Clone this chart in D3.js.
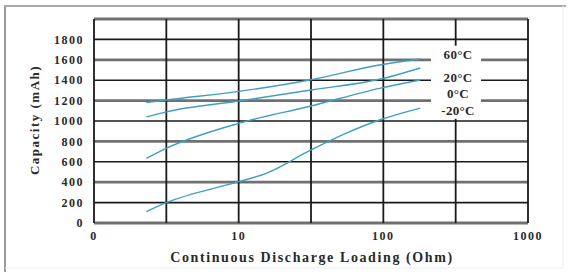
<!DOCTYPE html>
<html>
<head>
<meta charset="utf-8">
<script src="https://cdn.jsdelivr.net/npm/d3@7"></script>
<style>
  body { margin: 0; background: #fff; }
  text { font-family: "Liberation Serif", "Times New Roman", serif; font-weight: bold; fill: #2a2a2a; }
</style>
</head>
<body>
<svg id="chart" width="571" height="277"></svg>
<script>
// data
var xTicks = [1, 10, 100, 1000];
var xTickLabels = ["0", "10", "100", "1000"];
var yTicks = [0, 200, 400, 600, 800, 1000, 1200, 1400, 1600, 1800];
var seriesNames = ["60\u00B0C", "20\u00B0C", "0\u00B0C", "-20\u00B0C"];
var load60 = [2.3, 3.16, 10, 31.6, 94, 180];
var cap60 = [1180, 1206, 1290, 1405, 1549, 1608];
var load20 = [2.3, 3.16, 10, 31.6, 94, 180];
var cap20 = [1040, 1090, 1196, 1304, 1409, 1520];
var load0 = [2.3, 3.16, 10, 31.6, 94, 180];
var cap0 = [634, 732, 977, 1147, 1320, 1402];
var loadM20 = [2.3, 3.16, 10, 15.5, 31.6, 55, 94, 180];
var capM20 = [111, 199, 405, 487, 716, 879, 1010, 1127];
var labelY = [1650, 1430, 1270, 1100];

var series = [
  {name: seriesNames[0], x: load60, y: cap60},
  {name: seriesNames[1], x: load20, y: cap20},
  {name: seriesNames[2], x: load0, y: cap0},
  {name: seriesNames[3], x: loadM20, y: capM20}
];

var svg = d3.select("#chart");

// outer frame
svg.append("line").attr("x1", 5).attr("x2", 5).attr("y1", 5).attr("y2", 272)
  .attr("stroke", "#999").attr("stroke-width", 2);
svg.append("line").attr("x1", 4).attr("x2", 566).attr("y1", 6).attr("y2", 6)
  .attr("stroke", "#aaa").attr("stroke-width", 2);
svg.append("line").attr("x1", 563).attr("x2", 563).attr("y1", 6).attr("y2", 268)
  .attr("stroke", "#eee").attr("stroke-width", 1);
svg.append("line").attr("x1", 5).attr("x2", 563).attr("y1", 268).attr("y2", 268)
  .attr("stroke", "#eee").attr("stroke-width", 1);

var x = d3.scaleLog().domain([1, 1000]).range([94, 528]);
var y = d3.scaleLinear().domain([0, 2000]).range([223, 19]);

// horizontal grid: every other line is a heavier grey one
function heavy(d) { return d % 400 === 0; }
svg.append("g").selectAll("line")
  .data(d3.range(0, 2001, 200))
  .enter().append("line")
    .attr("x1", x(1)).attr("x2", x(1000))
    .attr("y1", function(d) { return y(d); })
    .attr("y2", function(d) { return y(d); })
    .attr("stroke", function(d) { return heavy(d) ? "#707070" : "#1a1a1a"; })
    .attr("stroke-width", function(d) { return heavy(d) ? 2.8 : 1.6; });

// vertical grid at every half decade
var vLines = [1, Math.sqrt(10), 10, Math.sqrt(1000), 100, Math.sqrt(100000), 1000];
svg.append("g").selectAll("line")
  .data(vLines)
  .enter().append("line")
    .attr("x1", function(d) { return x(d); })
    .attr("x2", function(d) { return x(d); })
    .attr("y1", y(2000)).attr("y2", y(0))
    .attr("stroke", "#1a1a1a")
    .attr("stroke-width", 1.8);

// curves
var line = d3.line()
  .x(function(d) { return x(d[0]); })
  .y(function(d) { return y(d[1]); })
  .curve(d3.curveMonotoneX);

svg.append("g").selectAll("path")
  .data(series)
  .enter().append("path")
    .attr("d", function(s) { return line(d3.zip(s.x, s.y)); })
    .attr("fill", "none")
    .attr("stroke", "#3f9fc2")
    .attr("stroke-width", 1.4);

// white patch behind the series labels
svg.append("rect")
  .attr("x", 431).attr("y", y(labelY[0]) - 9)
  .attr("width", 50)
  .attr("height", y(labelY[3]) - y(labelY[0]) + 17)
  .attr("fill", "#fff");

svg.append("g").selectAll("text")
  .data(series)
  .enter().append("text")
    .attr("x", 458)
    .attr("y", function(s, i) { return y(labelY[i]); })
    .attr("text-anchor", "middle")
    .attr("dy", "0.35em")
    .style("font-size", "13px")
    .style("letter-spacing", "0.3px")
    .text(function(s) { return s.name; });

// y tick labels
svg.append("g").selectAll("text")
  .data(yTicks)
  .enter().append("text")
    .attr("x", 84)
    .attr("y", function(d) { return y(d); })
    .attr("dy", "0.35em")
    .attr("text-anchor", "end")
    .style("font-size", "12px")
    .style("letter-spacing", "1.5px")
    .text(function(d) { return d; });

// x tick labels
svg.append("g").selectAll("text")
  .data(xTicks)
  .enter().append("text")
    .attr("x", function(d) { return x(d); })
    .attr("y", 240)
    .attr("text-anchor", "middle")
    .style("font-size", "12px")
    .style("letter-spacing", "1.5px")
    .text(function(d, i) { return xTickLabels[i]; });

// axis titles
svg.append("text")
  .attr("x", 312).attr("y", 262)
  .attr("text-anchor", "middle")
  .style("font-size", "14px")
  .style("letter-spacing", "1.6px")
  .text("Continuous Discharge Loading (Ohm)");

svg.append("text")
  .attr("transform", "translate(39,120) rotate(-90)")
  .attr("text-anchor", "middle")
  .style("font-size", "13px")
  .style("letter-spacing", "1.5px")
  .text("Capacity (mAh)");
</script>
</body>
</html>
